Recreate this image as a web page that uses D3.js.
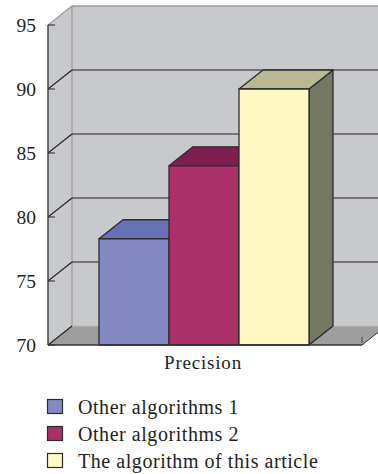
<!DOCTYPE html>
<html>
<head>
<meta charset="utf-8">
<script src="https://cdn.jsdelivr.net/npm/d3@7/dist/d3.min.js"></script>
<style>
  html, body { margin: 0; padding: 0; background: #ffffff; }
  svg { display: block; }
  text { font-family: "Liberation Serif", "DejaVu Serif", serif; fill: #231f20; }
</style>
</head>
<body>
<svg id="chart" width="378" height="474"></svg>
<script>
// Data
const categories = ["Precision"];
const seriesNames = ["Other algorithms 1", "Other algorithms 2", "The algorithm of this article"];
const seriesValues = [78.3, 84, 90];
const yTicks = [70, 75, 80, 85, 90, 95];

// Face colours per series: front, top, side
const frontColors = ["#8489c4", "#ab3068", "#fff8c2"];
const topColors = ["#6770b6", "#7f1e50", "#b8b993"];
const sideColors = ["#5a6094", "#6a1a44", "#747761"];

const svg = d3.select("#chart");

// Plot frame (front plane) and depth offset for the 3D look
const plotL = 48, plotR = 362, plotT = 25, plotB = 345;
const dx = 24, dy = -19;

const y = d3.scaleLinear().domain([70, 95]).range([plotB, plotT]);
const xCat = d3.scaleBand().domain(categories).range([plotL, plotR]).paddingInner(0).paddingOuter(0);
const xSeries = d3.scaleBand().domain(seriesNames)
  .range([xCat(categories[0]) + 51, xCat(categories[0]) + xCat.bandwidth() - 53])
  .padding(0);

const pts = a => a.map(p => p.join(",")).join(" ");

// Back wall
svg.append("polygon")
  .attr("points", pts([[plotL + dx, plotT + dy], [plotR + dx + 40, plotT + dy], [plotR + dx + 40, plotB + dy], [plotL + dx, plotB + dy]]))
  .attr("fill", "#c8c9cd");

// Left side wall
svg.append("polygon")
  .attr("points", pts([[plotL, plotT], [plotL + dx, plotT + dy], [plotL + dx, plotB + dy], [plotL, plotB]]))
  .attr("fill", "#c8c9cd");

// Floor
svg.append("polygon")
  .attr("points", pts([[plotL, plotB], [plotR, plotB], [plotR + dx, plotB + dy], [plotL + dx, plotB + dy]]))
  .attr("fill", "#9e9e9f");
svg.append("line")
  .attr("x1", plotL + dx).attr("y1", plotB + dy).attr("x2", plotR + dx).attr("y2", plotB + dy)
  .attr("stroke", "#b9b9bb").attr("stroke-width", 1.2);
svg.append("line")
  .attr("x1", plotR).attr("y1", plotB).attr("x2", plotR + dx).attr("y2", plotB + dy)
  .attr("stroke", "#333").attr("stroke-width", 1);
svg.append("line")
  .attr("x1", plotR).attr("y1", plotB - 8).attr("x2", plotR).attr("y2", plotB - 2)
  .attr("stroke", "#444").attr("stroke-width", 1);

// Back wall edges
svg.append("line")
  .attr("x1", plotL + dx).attr("y1", plotT + dy).attr("x2", plotL + dx).attr("y2", plotB + dy)
  .attr("stroke", "#9a9a9c").attr("stroke-width", 1.2);
svg.append("line")
  .attr("x1", plotL + dx).attr("y1", plotT + dy).attr("x2", 378).attr("y2", plotT + dy)
  .attr("stroke", "#9a9a9c").attr("stroke-width", 1.5);
svg.append("line")
  .attr("x1", plotL).attr("y1", plotT).attr("x2", plotL + dx).attr("y2", plotT + dy)
  .attr("stroke", "#9a9a9c").attr("stroke-width", 1.2);

// Gridlines on back wall and diagonals on side wall
const inner = yTicks.filter(v => v > 70 && v < 95);
svg.append("g").selectAll("line").data(inner).join("line")
  .attr("x1", plotL + dx).attr("x2", 378)
  .attr("y1", d => y(d) + dy).attr("y2", d => y(d) + dy)
  .attr("stroke", "#222").attr("stroke-width", 1.2);
svg.append("g").selectAll("line").data(yTicks.filter(v => v < 95)).join("line")
  .attr("x1", plotL).attr("x2", plotL + dx)
  .attr("y1", d => y(d)).attr("y2", d => y(d) + dy)
  .attr("stroke", "#222").attr("stroke-width", 1.1);

// Bars, drawn left to right so each front face covers its neighbour's side
const bars = svg.append("g");
seriesNames.forEach((name, i) => {
  const x0 = xSeries(name), x1 = x0 + xSeries.bandwidth();
  const yt = y(seriesValues[i]), yb = y(70);
  const g = bars.append("g").attr("stroke", "#2b2b2b").attr("stroke-width", 1.3).attr("stroke-linejoin", "round");
  g.append("polygon").attr("fill", sideColors[i])
    .attr("points", pts([[x1, yt], [x1 + dx, yt + dy], [x1 + dx, yb + dy], [x1, yb]]));
  g.append("polygon").attr("fill", topColors[i])
    .attr("points", pts([[x0, yt], [x0 + dx, yt + dy], [x1 + dx, yt + dy], [x1, yt]]));
  g.append("rect").attr("fill", frontColors[i])
    .attr("x", x0).attr("y", yt).attr("width", x1 - x0).attr("height", yb - yt);
});

// Front axis and floor front edge
svg.append("line")
  .attr("x1", plotL).attr("y1", plotT).attr("x2", plotL).attr("y2", plotB)
  .attr("stroke", "#444").attr("stroke-width", 1.5);
svg.append("line")
  .attr("x1", plotL).attr("y1", plotB).attr("x2", plotR).attr("y2", plotB)
  .attr("stroke", "#333").attr("stroke-width", 1.3);

// Y ticks and labels
const yAxis = svg.append("g");
yAxis.selectAll("line").data(yTicks).join("line")
  .attr("x1", plotL).attr("x2", plotL + 7)
  .attr("y1", d => y(d)).attr("y2", d => y(d))
  .attr("stroke", "#333").attr("stroke-width", 1.1);
yAxis.selectAll("text").data(yTicks).join("text")
  .attr("x", 36).attr("y", d => y(d))
  .attr("dy", "0.35em")
  .attr("text-anchor", "end")
  .attr("font-size", 19.5)
  .text(d => d);

// Category label
svg.append("text")
  .attr("x", xCat(categories[0]) + xCat.bandwidth() / 2 - 2)
  .attr("y", 369)
  .attr("text-anchor", "middle")
  .attr("font-size", 19)
  .attr("letter-spacing", 0.8)
  .text(categories[0]);

// Legend
const legend = svg.append("g").attr("transform", "translate(47,399)");
seriesNames.forEach((name, i) => {
  const row = legend.append("g").attr("transform", `translate(0,${i * 27})`);
  row.append("rect").attr("x", 0.5).attr("y", 0.5).attr("width", 15).attr("height", 14)
    .attr("fill", frontColors[i]).attr("stroke", "#2b2b2b").attr("stroke-width", 1.2);
  row.append("text").attr("x", 31).attr("y", 14.5)
    .attr("font-size", 20).attr("letter-spacing", 0.55).text(name);
});
</script>
</body>
</html>
